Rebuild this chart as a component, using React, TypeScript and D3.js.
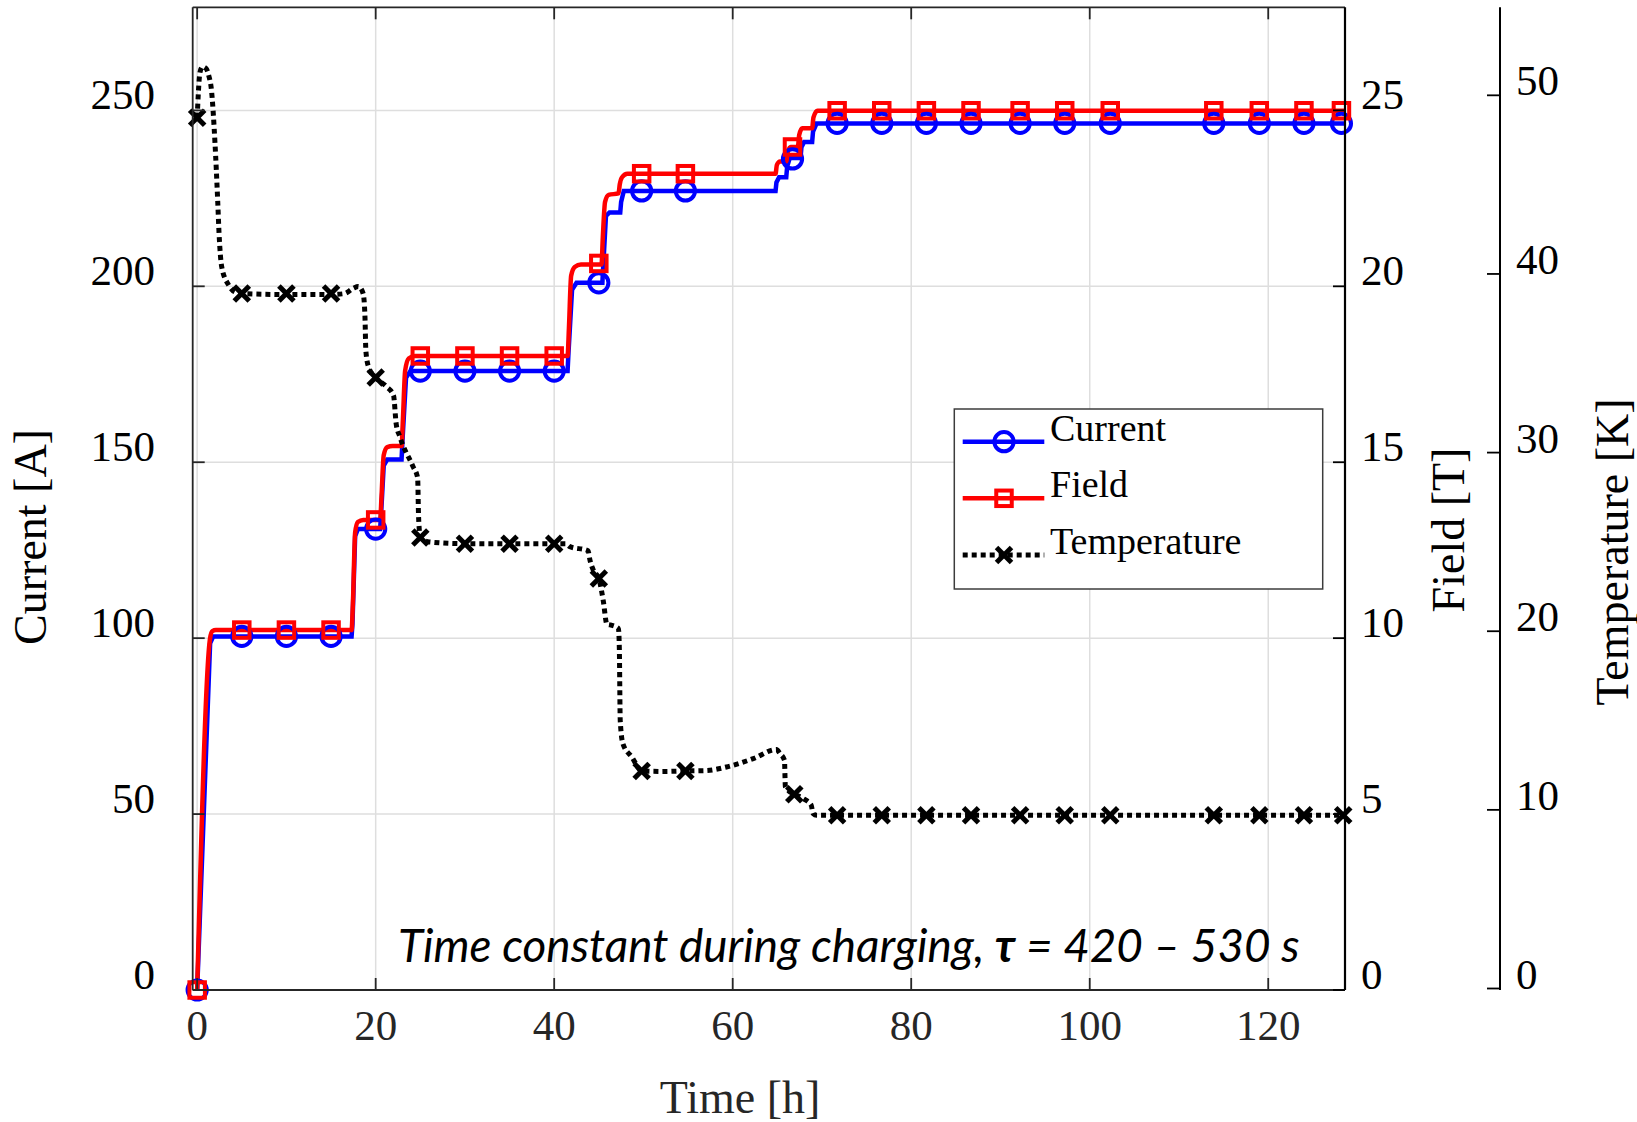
import React from "react";
import * as d3 from "d3";

// ---------- data ----------
const xTicks = [0, 20, 40, 60, 80, 100, 120];
const currentTicks = [0, 50, 100, 150, 200, 250];
const fieldTicks = [0, 5, 10, 15, 20, 25];
const tempTicks = [0, 10, 20, 30, 40, 50];

// Current [A] vs time [h]
const currentLine: [number, number][] = [
  [0, 0], [1.45, 98.5], [1.8, 100.5], [17.3, 100.5], [17.4, 104], [17.7, 129], [18.0, 131],
  [20.5, 131], [20.6, 135], [20.9, 149], [21.3, 150.8], [22.9, 150.8], [23.0, 156], [23.4, 174],
  [23.9, 175.9], [41.5, 175.9], [41.6, 181], [42.0, 199], [42.5, 201], [45.4, 201], [45.5, 206],
  [45.8, 220], [46.2, 221], [47.4, 221], [47.5, 224], [47.8, 227.1], [64.8, 227.1], [64.9, 229.5],
  [65.2, 231], [66.0, 231], [66.1, 234], [66.4, 236.5], [67.6, 236.5], [67.7, 239.5], [68.0, 241],
  [68.9, 241], [69.0, 244], [69.4, 246.3], [128.5, 246.3],
];
const currentMarkers: [number, number][] = [
  [0, 0], [5, 100.5], [10, 100.5], [15, 100.5], [20, 131], [25, 175.9], [30, 175.9], [35, 175.9],
  [40, 175.9], [45, 201], [49.8, 227.1], [54.7, 227.1], [66.7, 236.2], [71.7, 246.3], [76.7, 246.3],
  [81.7, 246.3], [86.7, 246.3], [92.2, 246.3], [97.2, 246.3], [102.3, 246.3], [113.9, 246.3],
  [119.0, 246.3], [124.0, 246.3], [128.2, 246.3],
];

// Field [T] vs time [h]
const fieldLine: [number, number][] = [
  [0, 0], [1.45, 10.0], [1.7, 10.2], [2.1, 10.23], [17.3, 10.23], [17.45, 11], [17.7, 13.0],
  [18.0, 13.3], [18.6, 13.36], [20.5, 13.36], [20.65, 14], [20.9, 15.2], [21.3, 15.43],
  [21.9, 15.46], [22.9, 15.46], [23.05, 16.2], [23.3, 17.6], [23.7, 17.95], [24.4, 18.02],
  [41.5, 18.02], [41.65, 18.8], [41.9, 20.3], [42.3, 20.55], [43.0, 20.62], [45.3, 20.62],
  [45.45, 21.4], [45.7, 22.4], [46.1, 22.6], [47.2, 22.64], [47.35, 22.9], [47.6, 23.1],
  [48.2, 23.2], [64.8, 23.2], [64.95, 23.45], [65.3, 23.55], [66.0, 23.55], [66.15, 23.8],
  [66.5, 23.96], [67.3, 23.96], [67.45, 24.3], [67.8, 24.49], [68.9, 24.49], [69.05, 24.8],
  [69.5, 24.99], [128.5, 24.99],
];
const fieldMarkers: [number, number][] = [
  [0, 0], [5, 10.23], [10, 10.23], [15, 10.23], [20, 13.36], [25, 18.02], [30, 18.02], [35, 18.02],
  [40, 18.02], [45, 20.65], [49.8, 23.2], [54.7, 23.2], [66.7, 23.96], [71.7, 24.99], [76.7, 24.99],
  [81.7, 24.99], [86.7, 24.99], [92.2, 24.99], [97.2, 24.99], [102.3, 24.99], [113.9, 24.99],
  [119.0, 24.99], [124.0, 24.99], [128.2, 24.99],
];

// Temperature [K] vs time [h]
const tempLine: [number, number][] = [
  [0, 48.75], [0.32, 51.3], [0.6, 51.6], [1.0, 51.5], [1.3, 51.1], [1.6, 50.3], [2.0, 47.3],
  [2.3, 44.1], [2.45, 42.3], [2.75, 40.4], [3.5, 39.4], [4.2, 39.0], [5, 38.9], [10, 38.85],
  [15, 38.85], [16.5, 38.9], [17.5, 39.2], [18.05, 39.3], [18.6, 38.9], [18.8, 37.6],
  [18.9, 35.7], [19.2, 34.8], [20.0, 34.2], [21.2, 33.7], [22.0, 33.2], [22.3, 31.6],
  [22.7, 30.9], [24.2, 29.2], [24.7, 28.6], [24.8, 26.5], [24.9, 25.6], [25.0, 25.25],
  [26.0, 25.0], [30, 24.9], [35, 24.9], [40, 24.9], [41.3, 24.9], [41.7, 24.75], [43.8, 24.5],
  [44.0, 24.0], [44.4, 23.4], [45.0, 22.95], [45.5, 21.7], [45.9, 20.4], [46.3, 20.35],
  [47.2, 20.15], [47.3, 19.0], [47.4, 15.0], [47.7, 13.7], [48.7, 12.96], [49.8, 12.18],
  [52.0, 12.15], [54.7, 12.18], [57.0, 12.2], [59.3, 12.4], [62.3, 12.87], [64.9, 13.38],
  [65.3, 13.15], [65.8, 12.78], [65.9, 11.3], [66.3, 11.05], [66.9, 10.88], [67.9, 10.63],
  [68.8, 10.26], [69.0, 9.8], [69.4, 9.7], [128.5, 9.7],
];
const tempMarkers: [number, number][] = [
  [0, 48.75], [5, 38.9], [10, 38.9], [15, 38.9], [20, 34.2], [25, 25.25], [30, 24.9], [35, 24.9],
  [40, 24.9], [45, 22.95], [49.8, 12.18], [54.7, 12.18], [66.9, 10.88], [71.7, 9.7], [76.7, 9.7],
  [81.7, 9.7], [86.7, 9.7], [92.2, 9.7], [97.2, 9.7], [102.3, 9.7], [113.9, 9.7], [119.0, 9.7],
  [124.0, 9.7], [128.4, 9.7],
];

const legendLabels = ["Current", "Field", "Temperature"];
const annotation = "Time constant during charging, ";
const annotationSymbol = "τ";
const annotationRange = " = 420 – 530 s";

// ---------- layout ----------
const W = 1637;
const H = 1122;
const L = 192.7;
const R = 1345;
const T = 7.3;
const B = 990;
const TEMP_AXIS_X = 1500;

const SERIF = "'Liberation Serif', 'Times New Roman', serif";
const AXIS_COLOR = "#262626";
const GRID = "#dedede";
const LINE_W = 4.5;
const DOT_W = 5;
const DOT_DASH = "5 4";

const x = d3.scaleLinear().domain([-0.5, 128.6]).range([L, R]);
const yA = d3.scaleLinear().domain([0, 279.3]).range([B, T]);
const yF = d3.scaleLinear().domain([0, 27.93]).range([B, T]);
const yK = d3.scaleLinear().domain([0, 55]).range([988.5, 6]);

function Circle({ cx, cy }: { cx: number; cy: number }) {
  return <circle cx={cx} cy={cy} r={9.6} fill="none" stroke="#0000ff" strokeWidth={4} />;
}
function Square({ cx, cy }: { cx: number; cy: number }) {
  const s = 15.5;
  return (
    <rect x={cx - s / 2} y={cy - s / 2} width={s} height={s} fill="none" stroke="#ff0000" strokeWidth={4} />
  );
}
function Cross({ cx, cy }: { cx: number; cy: number }) {
  const a = 7.5;
  return (
    <g stroke="#000" strokeWidth={5}>
      <line x1={cx - a} y1={cy - a} x2={cx + a} y2={cy + a} />
      <line x1={cx - a} y1={cy + a} x2={cx + a} y2={cy - a} />
    </g>
  );
}

export default function App() {
  const lineA = d3.line<[number, number]>().x((d) => x(d[0])).y((d) => yA(d[1])).curve(d3.curveLinear);
  const lineF = d3.line<[number, number]>().x((d) => x(d[0])).y((d) => yF(d[1])).curve(d3.curveMonotoneX);
  const lineK = d3.line<[number, number]>().x((d) => x(d[0])).y((d) => yK(d[1])).curve(d3.curveMonotoneX);

  const tickFont = 43;
  const labelFont = 46;
  const legendRowY = [441.7, 498.3, 555];

  return (
    <svg
      width={W}
      height={H}
      style={{ position: "absolute", left: 0, top: 0, background: "#fff" }}
      xmlns="http://www.w3.org/2000/svg"
    >
      <rect x={0} y={0} width={W} height={H} fill="#fff" />
      {/* grid */}
      <g stroke={GRID} strokeWidth={1.5}>
        {xTicks.map((t) => (
          <line key={"gx" + t} x1={x(t)} x2={x(t)} y1={T} y2={B} />
        ))}
        {currentTicks.map((t) => (
          <line key={"gy" + t} x1={L} x2={R} y1={yA(t)} y2={yA(t)} />
        ))}
      </g>

      {/* series lines */}
      <path d={lineA(currentLine) || ""} fill="none" stroke="#0000ff" strokeWidth={LINE_W} />
      <path d={lineF(fieldLine) || ""} fill="none" stroke="#ff0000" strokeWidth={LINE_W} />
      <path
        d={lineK(tempLine) || ""}
        fill="none"
        stroke="#000"
        strokeWidth={DOT_W}
        strokeDasharray={DOT_DASH}
      />

      {/* markers */}
      {currentMarkers.map((d, i) => (
        <Circle key={"cm" + i} cx={x(d[0])} cy={yA(d[1])} />
      ))}
      {fieldMarkers.map((d, i) => (
        <Square key={"fm" + i} cx={x(d[0])} cy={yF(d[1])} />
      ))}
      {tempMarkers.map((d, i) => (
        <Cross key={"tm" + i} cx={x(d[0])} cy={yK(d[1])} />
      ))}

      {/* box and axes */}
      <g stroke={AXIS_COLOR} strokeWidth={1.8} fill="none">
        <line x1={L} x2={R} y1={T} y2={T} />
        <line x1={L} x2={R} y1={B} y2={B} />
        <line x1={L} x2={L} y1={T} y2={B} />
        <line x1={R} x2={R} y1={T} y2={B} stroke="#000" strokeWidth={2.2} />
        {xTicks.map((t) => (
          <g key={"xt" + t}>
            <line x1={x(t)} x2={x(t)} y1={B} y2={B - 12} />
            <line x1={x(t)} x2={x(t)} y1={T} y2={T + 12} />
          </g>
        ))}
        {currentTicks.map((t) => (
          <line key={"lt" + t} x1={L} x2={L + 12} y1={yA(t)} y2={yA(t)} />
        ))}
        {fieldTicks.map((t) => (
          <line key={"rt" + t} x1={R} x2={R - 12} y1={yF(t)} y2={yF(t)} stroke="#000" />
        ))}
        <line x1={TEMP_AXIS_X} x2={TEMP_AXIS_X} y1={T} y2={B} stroke="#000" strokeWidth={2} />
        {tempTicks.map((t) => (
          <line key={"kt" + t} x1={TEMP_AXIS_X} x2={TEMP_AXIS_X - 13} y1={yK(t)} y2={yK(t)} stroke="#000" />
        ))}
      </g>

      {/* tick labels */}
      <g fontFamily={SERIF} fontSize={tickFont}>
        {xTicks.map((t) => (
          <text key={"xl" + t} x={x(t)} y={1040} textAnchor="middle" fill={AXIS_COLOR}>
            {t}
          </text>
        ))}
        {currentTicks.map((t) => (
          <text key={"yl" + t} x={155} y={yA(t) - 1} textAnchor="end" fill="#000">
            {t}
          </text>
        ))}
        {fieldTicks.map((t) => (
          <text key={"fl" + t} x={1361} y={yF(t) - 1} textAnchor="start" fill="#000">
            {t}
          </text>
        ))}
        {tempTicks.map((t) => (
          <text key={"kl" + t} x={1516} y={yK(t)} textAnchor="start" fill="#000">
            {t}
          </text>
        ))}
      </g>

      {/* axis labels */}
      <g fontFamily={SERIF} fontSize={labelFont} fill="#000">
        <text x={740} y={1113} textAnchor="middle" fill={AXIS_COLOR}>
          Time [h]
        </text>
        <text transform="translate(46,537) rotate(-90)" textAnchor="middle">
          Current [A]
        </text>
        <text transform="translate(1464,530) rotate(-90)" textAnchor="middle">
          Field [T]
        </text>
        <text transform="translate(1628,552) rotate(-90)" textAnchor="middle">
          Temperature [K]
        </text>
      </g>

      {/* annotation */}
      <text
        x={398}
        y={962}
        fontFamily="Lato, 'Open Sans', sans-serif"
        fontStyle="italic"
        fontSize={45.8}
        fill="#000"
      >
        {annotation}
        <tspan fontWeight="bold">{annotationSymbol}</tspan>
        {annotationRange}
      </text>

      {/* legend */}
      <g>
        <rect x={954.3} y={409} width={368.4} height={180} fill="#fff" stroke="#3c3c3c" strokeWidth={1.5} />
        <line x1={962.7} x2={1044.3} y1={legendRowY[0]} y2={legendRowY[0]} stroke="#0000ff" strokeWidth={LINE_W} />
        <Circle cx={1004} cy={legendRowY[0]} />
        <line x1={962.7} x2={1044.3} y1={legendRowY[1]} y2={legendRowY[1]} stroke="#ff0000" strokeWidth={LINE_W} />
        <Square cx={1004} cy={legendRowY[1]} />
        <line
          x1={962.7}
          x2={1044.3}
          y1={legendRowY[2]}
          y2={legendRowY[2]}
          stroke="#000"
          strokeWidth={DOT_W}
          strokeDasharray={DOT_DASH}
        />
        <Cross cx={1004} cy={legendRowY[2]} />
        {legendLabels.map((lab, i) => (
          <text key={lab} x={1050} y={legendRowY[i] - 1} fontFamily={SERIF} fontSize={38} fill="#000">
            {lab}
          </text>
        ))}
      </g>
    </svg>
  );
}
